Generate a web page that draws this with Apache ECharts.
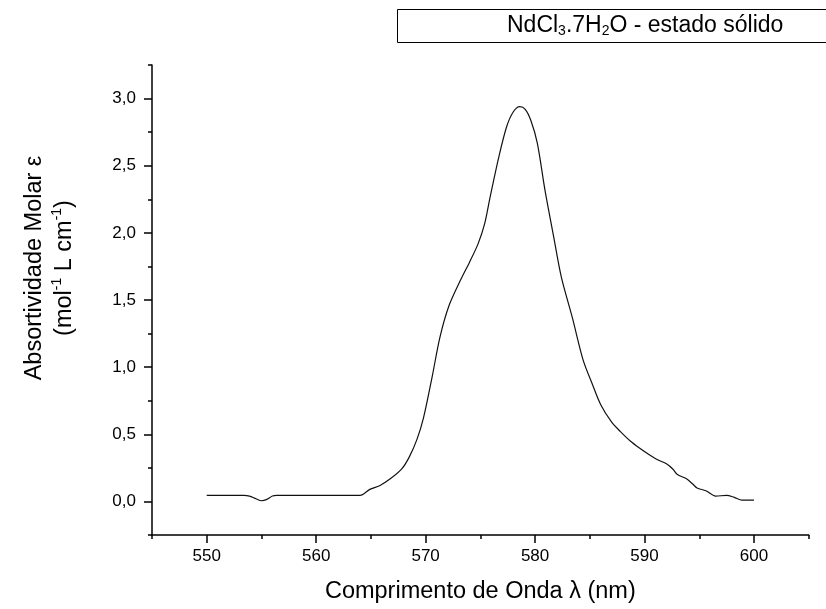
<!DOCTYPE html>
<html>
<head>
<meta charset="utf-8">
<script src="https://cdn.jsdelivr.net/npm/echarts@6/dist/echarts.min.js"></script>
<style>html,body{margin:0;padding:0;background:#fff;}#c{width:826px;height:609px;}</style>
</head>
<body>
<div id="c"></div>
<script>
// Wavelength (nm)
const wavelength = [550.0,553.4,553.9,554.5,555.0,555.5,556.0,556.4,564.0,564.9,565.8,566.8,567.8,568.5,569.2,569.8,570.6,571.3,572.1,573.2,574.0,574.8,575.4,575.9,576.7,577.4,578.0,578.6,579.1,579.6,580.2,580.9,581.7,582.4,583.4,584.4,585.2,586.0,587.0,587.8,588.7,589.5,590.4,591.2,592.0,592.6,593.0,593.8,594.4,594.8,595.6,596.5,597.5,598.2,598.9,600.0];
// Molar absorptivity
const absorbance = [0.045,0.045,0.04,0.02,0.005,0.015,0.04,0.045,0.045,0.09,0.117,0.17,0.24,0.33,0.46,0.62,0.93,1.22,1.45,1.65,1.78,1.92,2.07,2.27,2.57,2.79,2.90,2.94,2.92,2.84,2.67,2.32,1.97,1.67,1.37,1.05,0.88,0.72,0.59,0.52,0.45,0.40,0.35,0.31,0.28,0.24,0.20,0.17,0.13,0.10,0.08,0.04,0.045,0.03,0.01,0.01];
const xMajor = [550,560,570,580,590,600];
const xMinor = [545,555,565,575,585,595,605];
const yMajor = [0,0.5,1.0,1.5,2.0,2.5,3.0];
const yMinor = [-0.25,0.25,0.75,1.25,1.75,2.25,2.75,3.25];

const FONT = 'Liberation Sans, Arial, sans-serif';
const chart = echarts.init(document.getElementById('c'), null, {renderer:'canvas'});
const fmt = v => v.toFixed(1).replace('.', ',');

chart.setOption({
  animation:false,
  backgroundColor:'#fff',
  title:{
    left:397, top:8,
    text:'{a|NdCl}{s|3}{a|.7H}{s|2}{a|O - estado sólido}',
    borderColor:'#000', borderWidth:1,
    padding:[5,60,5,110],
    textStyle:{
      fontFamily:FONT, fontWeight:'normal',
      rich:{
        a:{fontSize:23, color:'#000', fontFamily:FONT, fontWeight:'normal', lineHeight:25},
        s:{fontSize:14, color:'#000', fontFamily:FONT, fontWeight:'normal', verticalAlign:'bottom', lineHeight:25, padding:[10,0,0,0]}
      }
    }
  },
  grid:{left:152, top:65, right:17.3, bottom:74, containLabel:false},
  xAxis:[{
    type:'value', min:545, max:605, position:'bottom',
    axisLine:{show:true, onZero:false, lineStyle:{color:'#000', width:1.5}},
    axisTick:{show:true, inside:false, length:8, customValues:xMajor, lineStyle:{color:'#000', width:1.5}},
    axisLabel:{customValues:xMajor, color:'#000', fontSize:17, fontFamily:FONT, margin:13},
    splitLine:{show:false},
    name:'Comprimento de Onda λ (nm)', nameLocation:'middle', nameGap:45,
    nameTextStyle:{fontSize:23.5, color:'#000', fontFamily:FONT}
  },{
    type:'value', min:545, max:605, position:'bottom',
    axisLine:{show:false, onZero:false},
    axisTick:{show:true, inside:false, length:4, customValues:xMinor, lineStyle:{color:'#000', width:1.5}},
    axisLabel:{show:false},
    splitLine:{show:false}
  }],
  yAxis:[{
    type:'value', min:-0.25, max:3.25, position:'left',
    axisLine:{show:true, onZero:false, lineStyle:{color:'#000', width:1.5}},
    axisTick:{show:true, inside:false, length:8, customValues:yMajor, lineStyle:{color:'#000', width:1.5}},
    axisLabel:{customValues:yMajor, formatter:fmt, color:'#000', fontSize:17, fontFamily:FONT, margin:16},
    splitLine:{show:false},
    name:'{a|Absortividade Molar ε}\n{a|(mol}{p|-1}{a| L cm}{p|-1}{a|)}',
    nameLocation:'middle', nameRotate:90, nameGap:72,
    nameTextStyle:{
      fontFamily:FONT, align:'center', padding:[0,0,0,64],
      rich:{
        a:{fontSize:23.5, color:'#000', fontFamily:FONT, lineHeight:30},
        p:{fontSize:14, color:'#000', fontFamily:FONT, lineHeight:30, verticalAlign:'top', padding:[0,0,10,0]}
      }
    }
  },{
    type:'value', min:-0.25, max:3.25, position:'left',
    axisLine:{show:false, onZero:false},
    axisTick:{show:true, inside:false, length:4, customValues:yMinor, lineStyle:{color:'#000', width:1.5}},
    axisLabel:{show:false},
    splitLine:{show:false}
  }],
  series:[{
    type:'line', xAxisIndex:0, yAxisIndex:0,
    data: wavelength.map((w,i)=>[w, absorbance[i]]),
    showSymbol:false, smooth:0.3,
    lineStyle:{color:'#111', width:1.2}
  }]
});
</script>
</body>
</html>
